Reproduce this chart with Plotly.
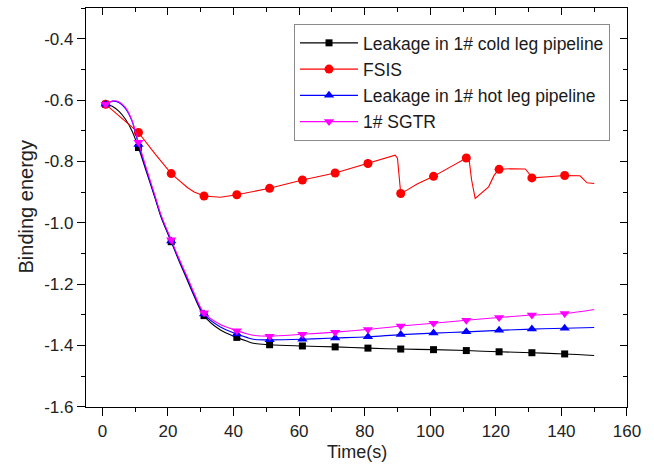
import plotly.graph_objects as go

# Time axis (s) for the three smooth curves
t_curve = [1, 3, 5, 7, 9, 11, 13, 16, 18, 21, 23, 26, 28, 31, 36, 41, 44, 46.5,
           51, 61, 71, 81, 91, 101, 111, 121, 131, 141, 150]

cold_leg = [-0.614, -0.620, -0.636, -0.662, -0.700, -0.755, -0.820, -0.918, -0.985,
            -1.062, -1.115, -1.190, -1.240, -1.303, -1.350, -1.374, -1.386, -1.394,
            -1.398, -1.402, -1.405, -1.409, -1.412, -1.414, -1.417, -1.421, -1.424,
            -1.428, -1.433]

hot_leg = [-0.614, -0.604, -0.608, -0.627, -0.668, -0.745, -0.815, -0.915, -0.982,
           -1.060, -1.112, -1.185, -1.236, -1.298, -1.340, -1.363, -1.374, -1.381,
           -1.382, -1.380, -1.376, -1.372, -1.365, -1.360, -1.356, -1.351, -1.347,
           -1.344, -1.342]

sgtr = [-0.614, -0.603, -0.606, -0.624, -0.665, -0.738, -0.808, -0.910, -0.978,
        -1.056, -1.108, -1.180, -1.230, -1.294, -1.332, -1.352, -1.362, -1.368,
        -1.370, -1.364, -1.357, -1.348, -1.337, -1.328, -1.318, -1.309, -1.301,
        -1.296, -1.283]

# FSIS has sharp jumps, so it carries its own time base
t_fsis = [1, 11, 16, 21, 24, 26, 28, 31, 36, 41, 51, 61, 71, 81, 85, 89.3, 90.0,
          90.5, 91, 93, 96, 101, 106, 111, 111.8, 112.6, 113.7, 115.5, 117.8, 119.5,
          121, 125, 129, 130, 131, 136, 141, 145.7, 146.8, 147.8, 150]
fsis = [-0.614, -0.706, -0.775, -0.840, -0.868, -0.886, -0.900, -0.913, -0.917,
        -0.909, -0.888, -0.861, -0.838, -0.807, -0.795, -0.780, -0.790, -0.840,
        -0.905, -0.893, -0.874, -0.849, -0.820, -0.789, -0.790, -0.860, -0.921,
        -0.905, -0.883, -0.845, -0.826, -0.824, -0.825, -0.838, -0.854, -0.850,
        -0.846, -0.847, -0.860, -0.870, -0.872]

# Symbols are placed every 10 s
marker_times = [1, 11, 21, 31, 41, 51, 61, 71, 81, 91, 101, 111, 121, 131, 141]

x_tickvals = [0, 20, 40, 60, 80, 100, 120, 140, 160]
x_ticktext = ["0", "20", "40", "60", "80", "100", "120", "140", "160"]
y_tickvals = [-0.4, -0.6, -0.8, -1.0, -1.2, -1.4, -1.6]
y_ticktext = ["-0.4", "-0.6", "-0.8", "-1.0", "-1.2", "-1.4", "-1.6"]

series = [
    ("Leakage in 1# cold leg pipeline", t_curve, cold_leg, "#000000", "square", 7, "spline"),
    ("FSIS", t_fsis, fsis, "#ff0000", "circle", 9, "linear"),
    ("Leakage in 1# hot leg pipeline", t_curve, hot_leg, "#0000ff", "triangle-up", 9, "spline"),
    ("1# SGTR", t_curve, sgtr, "#ff00ff", "triangle-down", 9, "spline"),
]

FONT = "Liberation Sans, Arial, sans-serif"

fig = go.Figure()
for name, tx, vy, color, symbol, msize, shape in series:
    fig.add_trace(go.Scatter(
        x=tx, y=vy, mode="lines", line=dict(color=color, width=1.1, shape=shape),
        legendgroup=name, showlegend=False, hoverinfo="skip"))
    mx = [t for t in marker_times if t in tx]
    my = [vy[tx.index(t)] for t in mx]
    fig.add_trace(go.Scatter(
        x=mx, y=my, mode="markers", legendgroup=name, showlegend=False,
        marker=dict(symbol=symbol, size=msize, color=color, line=dict(width=0))))
    # legend entry: line with symbol
    fig.add_trace(go.Scatter(
        x=[None], y=[None], mode="lines+markers", name=name, legendgroup=name,
        line=dict(color=color, width=1.1),
        marker=dict(symbol=symbol, size=msize, color=color, line=dict(width=0))))

x_range = [-5, 160.01]
y_range = [-1.601, -0.3]

axis_common = dict(showgrid=False, zeroline=False, color="#000000",
                   tickfont=dict(family=FONT, size=17, color="#222222"))

fig.update_layout(
    width=654, height=464,
    margin=dict(l=86, r=27, t=8, b=57),
    paper_bgcolor="white", plot_bgcolor="white",
    font=dict(family=FONT, color="#222222"),
    xaxis=dict(range=x_range, tickmode="array", tickvals=x_tickvals, ticktext=x_ticktext,
               ticks="outside", ticklen=8, tickwidth=1.2, tickcolor="#000000",
               showline=True, linecolor="#000000", linewidth=1.3, mirror=True,
               minor=dict(dtick=10, tick0=0, ticks="outside", ticklen=4,
                          tickwidth=1.2, tickcolor="#000000"),
               **axis_common),
    yaxis=dict(range=y_range, tickmode="array", tickvals=y_tickvals, ticktext=y_ticktext,
               ticks="outside", ticklen=8, tickwidth=1.2, tickcolor="#000000",
               showline=True, linecolor="#000000", linewidth=1.3, mirror=True,
               minor=dict(dtick=0.1, tick0=-0.4, ticks="outside", ticklen=4,
                          tickwidth=1.2, tickcolor="#000000"),
               **axis_common),
    xaxis2=dict(range=x_range, overlaying="x", side="top", anchor="y",
                tickmode="array", tickvals=x_tickvals, showticklabels=False,
                ticks="inside", ticklen=7, tickwidth=1.2, tickcolor="#000000",
                minor=dict(dtick=10, tick0=0, ticks="inside", ticklen=4,
                           tickwidth=1.2, tickcolor="#000000"),
                showgrid=False, zeroline=False, showline=False),
    yaxis2=dict(range=y_range, overlaying="y", side="right", anchor="x",
                tickmode="array", tickvals=y_tickvals, showticklabels=False,
                ticks="inside", ticklen=7, tickwidth=1.2, tickcolor="#000000",
                minor=dict(dtick=0.1, tick0=-0.4, ticks="inside", ticklen=4,
                           tickwidth=1.2, tickcolor="#000000"),
                showgrid=False, zeroline=False, showline=False),
    legend=dict(x=0.3845, y=0.96, xanchor="left", yanchor="top",
                bgcolor="white", bordercolor="#8a8a8a", borderwidth=1,
                font=dict(family=FONT, size=17.5, color="#1a1a1a"),
                tracegroupgap=0.5, itemwidth=58),
    annotations=[
        dict(text="Binding energy", xref="paper", yref="paper", x=0, y=0.5,
             xshift=-61, textangle=-90, showarrow=False, xanchor="center",
             yanchor="middle", font=dict(family=FONT, size=20, color="#222222")),
        dict(text="Time(s)", xref="paper", yref="paper", x=0.5, y=0,
             yshift=-45, showarrow=False, xanchor="center", yanchor="middle",
             font=dict(family=FONT, size=18, color="#222222")),
    ],
)

# invisible anchor trace so the mirrored tick axes are drawn
fig.add_trace(go.Scatter(x=[None], y=[None], xaxis="x2", yaxis="y2",
                         showlegend=False, hoverinfo="skip"))

fig.write_html("out.html")
